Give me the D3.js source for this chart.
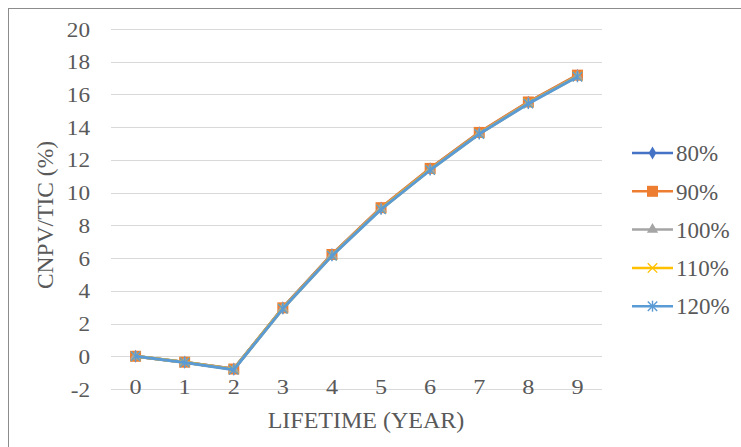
<!DOCTYPE html>
<html>
<head>
<meta charset="utf-8">
<script src="https://cdn.jsdelivr.net/npm/d3@7"></script>
<style>
  body { margin: 0; background: #fff; }
</style>
</head>
<body>
<div class="chart"></div>
<script>
var svgWidth = 741;
var svgHeight = 447;

var margin = { top: 29, right: 139, bottom: 58, left: 111 };
var width = svgWidth - margin.left - margin.right;
var height = svgHeight - margin.top - margin.bottom;

var serif = "Liberation Serif";
var textColor = "#595959";

// data
var years = [0, 1, 2, 3, 4, 5, 6, 7, 8, 9];
var yTicks = [-2, 0, 2, 4, 6, 8, 10, 12, 14, 16, 18, 20];
var seriesNames = ["80%", "90%", "100%", "110%", "120%"];
var s80 = [0, -0.36, -0.78, 2.96, 6.22, 9.06, 11.46, 13.66, 15.52, 17.16];
var s90 = [0, -0.36, -0.78, 2.96, 6.22, 9.08, 11.48, 13.68, 15.54, 17.18];
var s100 = [0, -0.37, -0.79, 2.93, 6.18, 9.02, 11.42, 13.62, 15.48, 17.12];
var s110 = [0, -0.37, -0.80, 2.92, 6.16, 9.00, 11.40, 13.60, 15.46, 17.10];
var s120 = [0, -0.38, -0.82, 2.90, 6.14, 8.98, 11.38, 13.58, 15.44, 17.08];
var allSeries = [s80, s90, s100, s110, s120];
var colors = ["#4472C4", "#ED7D31", "#A5A5A5", "#FFC000", "#5B9BD5"];
var markers = ["diamond", "square", "triangle", "x", "star"];

var svg = d3.select(".chart")
  .append("svg")
  .attr("width", svgWidth)
  .attr("height", svgHeight);

// outer frame
svg.append("rect")
  .attr("x", 8.5).attr("y", 8.5)
  .attr("width", 745).attr("height", 450)
  .attr("fill", "none")
  .attr("stroke", "#8c8c8c")
  .attr("stroke-width", 1);

var chart = svg.append("g")
  .attr("transform", "translate(" + margin.left + "," + margin.top + ")");

var xScale = d3.scaleBand().domain(years).range([0, width]);
var yScale = d3.scaleLinear().domain([-2, 20]).range([height, 0]);
var xc = function(d) { return xScale(d) + xScale.bandwidth() / 2; };

// gridlines
chart.append("g")
  .selectAll("line")
  .data(yTicks)
  .enter().append("line")
    .attr("x1", 0).attr("x2", width)
    .attr("y1", function(d) { return Math.round(yScale(d)) + 0.5; })
    .attr("y2", function(d) { return Math.round(yScale(d)) + 0.5; })
    .attr("stroke", "#d9d9d9")
    .attr("stroke-width", 1);

// y axis labels (the original text is a bit wide, so stretch it)
var leftAxis = d3.axisLeft(yScale).tickValues(yTicks).tickSize(0)
  .tickFormat(function(d) { return String(d); });
var yg = chart.append("g").call(leftAxis);
yg.attr("font-family", serif).attr("font-size", 20);
yg.select(".domain").remove();
yg.selectAll("text")
  .attr("fill", textColor)
  .attr("font-family", serif)
  .attr("x", 0)
  .attr("dy", "0.35em")
  .attr("transform", "translate(-21,0) scale(1.16,1)");

// x axis labels (sit on the bottom line like in the original)
var bottomAxis = d3.axisBottom(xScale).tickSize(0);
var xg = chart.append("g").attr("transform", "translate(0," + height + ")").call(bottomAxis);
xg.attr("font-family", serif).attr("font-size", 22);
xg.select(".domain").remove();
xg.selectAll("text")
  .attr("fill", textColor)
  .attr("font-family", serif)
  .attr("y", 0)
  .attr("dy", 0)
  .attr("transform", "translate(0,5) scale(1.1,1)");

var line = d3.line()
  .x(function(d, i) { return xc(years[i]); })
  .y(function(d) { return yScale(d); });

function drawMarker(g, type, color, cx, cy) {
  if (type === "diamond") {
    g.append("path").attr("d", d3.symbol(d3.symbolDiamond, 50)()).attr("transform", "translate(" + cx + "," + cy + ")").attr("fill", color);
  } else if (type === "square") {
    g.append("rect").attr("x", cx - 5.5).attr("y", cy - 5.5).attr("width", 11).attr("height", 11).attr("fill", color);
  } else if (type === "triangle") {
    g.append("path").attr("d", d3.symbol(d3.symbolTriangle, 55)()).attr("transform", "translate(" + cx + "," + cy + ")").attr("fill", color);
  } else if (type === "x") {
    g.append("path").attr("d", d3.symbol(d3.symbolTimes, 60)()).attr("transform", "translate(" + cx + "," + cy + ")").attr("fill", "none").attr("stroke", color).attr("stroke-width", 1.4);
  } else {
    g.append("path").attr("d", d3.symbol(d3.symbolTimes, 60)()).attr("transform", "translate(" + cx + "," + cy + ")").attr("fill", "none").attr("stroke", color).attr("stroke-width", 1.4);
    g.append("line").attr("x1", cx).attr("x2", cx).attr("y1", cy - 5.5).attr("y2", cy + 5.5).attr("stroke", color).attr("stroke-width", 1.4);
  }
}

allSeries.forEach(function(vals, k) {
  chart.append("path")
    .datum(vals)
    .attr("d", line)
    .attr("fill", "none")
    .attr("stroke", colors[k])
    .attr("stroke-width", 3)
    .attr("stroke-linejoin", "round");
  var mg = chart.append("g");
  vals.forEach(function(v, i) {
    drawMarker(mg, markers[k], colors[k], xc(years[i]), yScale(v));
  });
});

// axis titles
svg.append("text")
  .attr("transform", "rotate(-90)")
  .attr("x", -215)
  .attr("y", 53)
  .attr("text-anchor", "middle")
  .attr("font-family", serif)
  .attr("font-size", 23.5)
  .attr("fill", textColor)
  .text("CNPV/TIC (%)");

svg.append("text")
  .attr("x", 366)
  .attr("y", 428)
  .attr("text-anchor", "middle")
  .attr("font-family", serif)
  .attr("font-size", 24)
  .attr("fill", textColor)
  .text("LIFETIME (YEAR)");

// legend
var legend = svg.append("g");
seriesNames.forEach(function(name, k) {
  var ly = 153 + k * 38.3;
  legend.append("line")
    .attr("x1", 632).attr("x2", 673)
    .attr("y1", ly).attr("y2", ly)
    .attr("stroke", colors[k]).attr("stroke-width", 2.5);
  drawMarker(legend, markers[k], colors[k], 652.5, ly);
  legend.append("text")
    .attr("x", 676).attr("y", ly)
    .attr("dy", "0.36em")
    .attr("font-family", serif)
    .attr("font-size", 23)
    .attr("fill", textColor)
    .text(name);
});
</script>
</body>
</html>
